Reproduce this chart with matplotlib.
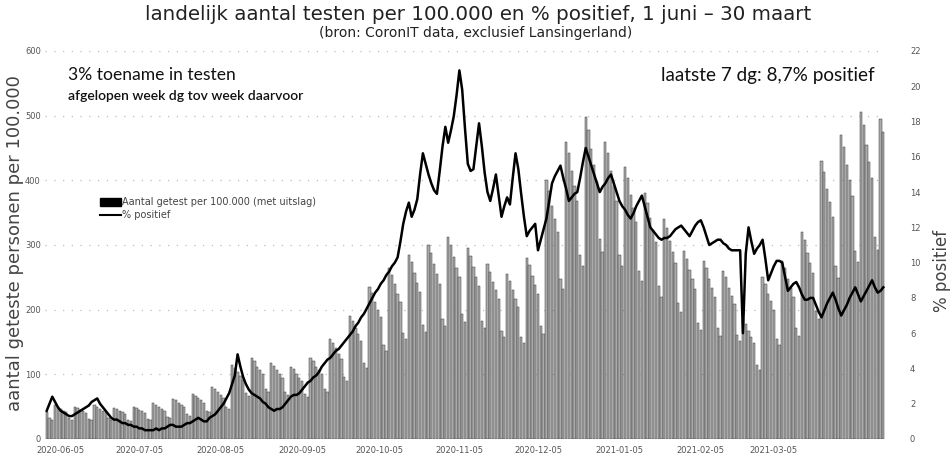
import matplotlib
matplotlib.use("Agg")
import matplotlib.pyplot as plt
import numpy as np
from matplotlib.patches import Patch
from matplotlib.lines import Line2D

# tests per 100.000 per day, 1 juni - 30 maart
tests = [
    42, 32, 30,
    52, 50, 47, 44, 42, 32, 30,
    50, 48, 45, 43, 40, 31, 29,
    52, 50, 47, 44, 42, 32, 30,
    48, 46, 43, 41, 38, 30, 28,
    50, 48, 45, 43, 40, 31, 29,
    55, 53, 50, 47, 44, 34, 32,
    62, 60, 56, 53, 50, 38, 36,
    70, 67, 63, 60, 56, 43, 41,
    80, 77, 72, 68, 64, 50, 46,
    115, 110, 104, 98, 92, 71, 67,
    125, 120, 112, 106, 100, 78, 72,
    118, 113, 106, 100, 94, 73, 68,
    112, 108, 101, 95, 90, 70, 65,
    125, 120, 112, 106, 100, 78, 72,
    155, 149, 140, 132, 124, 96, 90,
    190, 182, 171, 162, 152, 118, 110,
    235, 226, 212, 200, 188, 146, 136,
    265, 254, 239, 225, 212, 164, 154,
    285, 274, 257, 242, 228, 177, 165,
    300, 288, 270, 255, 240, 186, 174,
    312, 300, 281, 265, 250, 193, 181,
    295, 283, 266, 251, 236, 183, 171,
    270, 259, 243, 230, 216, 167, 157,
    255, 245, 230, 217, 204, 158, 148,
    280, 269, 252, 238, 224, 174, 162,
    400, 384, 360, 340, 320, 248, 232,
    460, 442, 414, 391, 368, 285, 267,
    498, 478, 448, 423, 398, 309, 289,
    460, 442, 414, 391, 368, 285, 267,
    420, 403, 378, 357, 336, 260, 244,
    380, 365, 342, 323, 304, 236, 220,
    340, 326, 306, 289, 272, 211, 197,
    290, 278, 261, 247, 232, 180, 168,
    275, 264, 248, 234, 220, 171, 160,
    260, 250, 234, 221, 208, 161, 151,
    185, 178, 167, 157, 148, 115, 107,
    250, 240, 225, 213, 200, 155, 145,
    275, 264, 248, 234, 220, 171, 160,
    320, 307, 288, 272, 256, 198, 186,
    430, 413, 387, 366, 344, 267, 249,
    470, 451, 423, 400, 376, 291, 273,
    505, 485, 455, 429, 404, 313, 293,
    495, 475,
]

# % positive per day
positive = [
    1.6, 2.0, 2.4, 2.1, 1.8, 1.6, 1.5, 1.4, 1.3, 1.3,
    1.4, 1.5, 1.6, 1.7, 1.8, 1.9, 2.1, 2.2, 2.3, 2.0,
    1.8, 1.6, 1.4, 1.2, 1.1, 1.1, 1.0, 0.9, 0.9, 0.8,
    0.8, 0.7, 0.7, 0.6, 0.6, 0.5, 0.5, 0.5, 0.5, 0.6,
    0.5, 0.6, 0.6, 0.7, 0.8, 0.8, 0.7, 0.7, 0.7, 0.8,
    0.9, 0.9, 1.0, 1.1, 1.2, 1.1, 1.0, 1.0, 1.2, 1.3,
    1.4, 1.6, 1.8, 2.0, 2.3, 2.6, 3.1, 3.6, 4.8, 4.1,
    3.5, 3.1, 2.8, 2.6, 2.5, 2.4, 2.3, 2.1, 2.0, 1.8,
    1.7, 1.6, 1.7, 1.7, 1.8, 2.0, 2.2, 2.4, 2.5, 2.5,
    2.6, 2.8, 3.0, 3.2, 3.3, 3.5, 3.6, 3.8, 4.1, 4.3,
    4.5, 4.6, 4.8, 5.0, 5.1, 5.3, 5.5, 5.7, 5.9, 6.1,
    6.4, 6.6, 6.9, 7.1, 7.4, 7.7, 8.0, 8.3, 8.5, 8.8,
    9.0, 9.3, 9.5, 9.8, 10.0, 10.3, 11.2, 12.2, 12.9, 13.4,
    12.6, 13.0, 13.6, 15.0, 16.2, 15.6, 15.0, 14.5, 14.1, 13.9,
    15.2, 16.6, 17.7, 16.8, 17.5, 18.3, 19.5, 20.9, 19.8, 17.6,
    15.6, 15.2, 15.3, 16.6, 17.9, 16.6, 15.1, 14.0, 13.5, 14.2,
    15.0, 13.8, 12.6, 13.2, 13.7, 13.3, 14.8, 16.2, 15.3, 13.9,
    12.6, 11.5, 11.8, 12.0, 12.2, 10.7, 11.3, 11.9, 12.5, 13.5,
    14.5, 14.9, 15.2, 15.5, 14.8, 14.2, 13.5, 13.7, 13.9, 14.0,
    14.8, 15.7, 16.5, 16.0, 15.5, 15.0, 14.5, 14.0, 14.3, 14.5,
    14.8, 15.0, 14.5, 14.0, 13.5, 13.2, 13.0, 12.7, 12.5, 12.8,
    13.2, 13.5, 13.8, 13.2, 12.6, 12.0, 11.8, 11.6, 11.4, 11.3,
    11.4, 11.4, 11.5, 11.7, 11.9, 12.0, 12.1, 11.9, 11.7, 11.5,
    11.8, 12.1, 12.3, 12.4, 12.0, 11.5, 11.0, 11.1, 11.2, 11.3,
    11.3, 11.1, 11.0, 10.8, 10.7, 10.7, 10.7, 10.7, 6.0, 10.5,
    12.0, 11.2, 10.5, 10.8, 11.0, 11.3, 10.2, 9.0, 9.4, 9.8,
    10.1, 10.1, 10.0, 9.2, 8.4, 8.6, 8.8, 8.9, 8.6, 8.2,
    7.9, 7.9, 8.0, 8.0, 7.6, 7.2, 6.9, 7.3, 7.7, 8.0,
    8.3, 7.9, 7.4, 7.0, 7.3, 7.6, 8.0, 8.3, 8.6, 8.2,
    7.8, 8.1, 8.4, 8.7, 9.0, 8.6, 8.3, 8.4, 8.6,
]

tick_labels = ["2020-06-05", "2020-07-05", "2020-08-05", "2020-09-05", "2020-10-05",
               "2020-11-05", "2020-12-05", "2021-01-05", "2021-02-05", "2021-03-05"]
# where the category axis places its labels (day index)
tick_days = [5, 33, 62, 91, 118.5, 147, 175, 204, 233, 259]
left_ticks = [0, 100, 200, 300, 400, 500, 600]
right_ticks = [0, 2, 4, 6, 8, 10, 12, 14, 16, 18, 20, 22]

n = min(len(tests), len(positive))
days = np.arange(n)

fig = plt.figure(figsize=(9.52, 4.59), dpi=100)
ax = fig.add_axes([45 / 952, 1 - 439 / 459, (885 - 45) / 952, (439 - 51) / 459])
ax2 = ax.twinx()

ax.bar(days, tests[:n], width=0.8, color="#ababab", edgecolor="#3a3a3a", linewidth=0.35, zorder=2)
ax2.plot(days, positive[:n], color="black", linewidth=1.8, solid_joinstyle="round", zorder=3)

ax.set_ylim(0, 600)
ax2.set_ylim(0, 22)
ax.set_yticks(left_ticks)
ax2.set_yticks(right_ticks)
ax.set_xlim(-0.6, n - 0.4)
ax.set_xticks(tick_days)
ax.set_xticklabels(tick_labels)

ax.grid(axis="y", color="#bdbdbd", linestyle=(0, (1, 6)), linewidth=0.9, zorder=0)
ax.set_axisbelow(True)
for a in (ax, ax2):
    for s in a.spines.values():
        s.set_visible(False)
    a.tick_params(length=0, labelsize=6, labelcolor="#555555")
ax.tick_params(axis="y", pad=3)
ax.tick_params(axis="x", pad=5)
ax2.tick_params(axis="y", pad=18)

fig.text(15 / 952, 0.47, "aantal geteste personen per 100.000", rotation=90,
         ha="center", va="center", fontsize=13, color="#444444")
fig.text(942 / 952, 0.41, "% positief", rotation=90, ha="center", va="center",
         fontsize=12, color="#444444")

fig.text(0.502, 1 - 15 / 459, "landelijk aantal testen per 100.000 en % positief, 1 juni \u2013 30 maart",
         ha="center", va="center", fontsize=14.3, color="#222222")
fig.text(0.5, 1 - 33 / 459, "(bron: CoronIT data, exclusief Lansingerland)",
         ha="center", va="center", fontsize=10, color="#222222")

fig.text(68 / 952, 1 - 75 / 459, "3% toename in testen", ha="left", va="center",
         fontsize=12.6, family="Lato", color="#111111")
fig.text(68 / 952, 1 - 96 / 459, "afgelopen week dg tov week daarvoor", ha="left", va="center",
         fontsize=10, family="Lato", fontweight="semibold", color="#111111")
fig.text(875 / 952, 1 - 75 / 459, "laatste 7 dg: 8,7% positief", ha="right", va="center",
         fontsize=13.6, family="Lato", color="#111111")

handles = [Patch(facecolor="black", edgecolor="black"),
           Line2D([0], [0], color="black", linewidth=1.5)]
leg = ax.legend(handles, ["Aantal getest per 100.000 (met uitslag)", "% positief"],
                loc="upper left", bbox_to_anchor=(0.055, 0.645),
                frameon=False, fontsize=7, handlelength=2.2, handleheight=0.8,
                handletextpad=0.1, labelspacing=0.3, labelcolor="#444444")

fig.savefig("out.png", dpi=100)
